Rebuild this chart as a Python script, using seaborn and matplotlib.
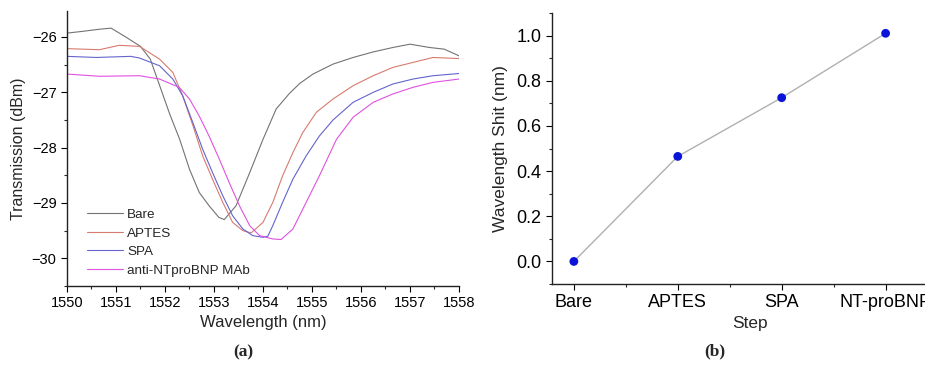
import matplotlib
matplotlib.use("Agg")
import matplotlib.pyplot as plt
import numpy as np
import pandas as pd
import seaborn as sns
from matplotlib.ticker import AutoMinorLocator, MultipleLocator

# spectra: wavelength (nm), transmission (dBm)
bare_wl = [1550.0, 1550.3, 1550.66, 1550.9, 1551.2, 1551.5, 1551.7, 1551.9, 1552.1,
           1552.3, 1552.5, 1552.7, 1552.9, 1553.1, 1553.21, 1553.45, 1553.73, 1554.0,
           1554.27, 1554.54, 1554.75, 1555.02, 1555.43, 1555.84, 1556.25, 1556.65, 1557.0,
           1557.4, 1557.7, 1558.0]
bare_tr = [-25.93, -25.9, -25.86, -25.84, -26.0, -26.17, -26.4, -26.9, -27.4,
           -27.85, -28.39, -28.81, -29.05, -29.26, -29.3, -29.05, -28.45, -27.85,
           -27.3, -27.02, -26.84, -26.67, -26.49, -26.37, -26.27, -26.19, -26.13,
           -26.19, -26.22, -26.34]

aptes_wl = [1550.0, 1550.66, 1551.07, 1551.48, 1551.89, 1552.16, 1552.36, 1552.57, 1552.77,
            1552.97, 1553.18, 1553.38, 1553.59, 1553.76, 1554.0, 1554.2, 1554.4, 1554.61,
            1554.81, 1555.09, 1555.43, 1555.84, 1556.25, 1556.65, 1557.06, 1557.47, 1558.0]
aptes_tr = [-26.21, -26.23, -26.15, -26.17, -26.4, -26.64, -27.06, -27.6, -28.15,
            -28.57, -28.99, -29.35, -29.5, -29.54, -29.35, -28.99, -28.51, -28.09,
            -27.73, -27.36, -27.12, -26.88, -26.7, -26.55, -26.46, -26.37, -26.39]

spa_wl = [1550.0, 1550.6, 1551.3, 1551.48, 1551.89, 1552.16, 1552.36, 1552.57, 1552.77,
          1552.97, 1553.18, 1553.38, 1553.59, 1553.79, 1554.0, 1554.1, 1554.2, 1554.4,
          1554.61, 1554.88, 1555.15, 1555.43, 1555.84, 1556.25, 1556.65, 1557.06, 1557.47,
          1558.0]
spa_tr = [-26.35, -26.37, -26.35, -26.38, -26.52, -26.76, -27.06, -27.55, -28.03,
          -28.45, -28.87, -29.23, -29.47, -29.59, -29.62, -29.6, -29.41, -28.99,
          -28.57, -28.15, -27.79, -27.5, -27.18, -27.0, -26.85, -26.76, -26.7,
          -26.66]

mab_wl = [1550.0, 1550.66, 1551.48, 1551.89, 1552.29, 1552.5, 1552.7, 1552.9, 1553.11,
          1553.31, 1553.52, 1553.73, 1553.93, 1554.2, 1554.37, 1554.61, 1554.88, 1555.15,
          1555.5, 1555.84, 1556.25, 1556.65, 1557.06, 1557.47, 1558.0]
mab_tr = [-26.67, -26.71, -26.7, -26.76, -26.91, -27.12, -27.43, -27.79, -28.21,
          -28.63, -29.05, -29.41, -29.59, -29.65, -29.66, -29.47, -28.99, -28.51,
          -27.85, -27.45, -27.18, -27.03, -26.91, -26.82, -26.76]

series_names = ["Bare", "APTES", "SPA", "anti-NTproBNP MAb"]
series_colors = ["#737373", "#d87b6e", "#6464cc", "#e052e0"]

# panel (b)
steps = ["Bare", "APTES", "SPA", "NT-proBNP"]
shift = [0.0, 0.465, 0.725, 1.01]

sns.set_style("ticks")
plt.rcParams["font.family"] = ["Liberation Sans", "DejaVu Sans"]
plt.rcParams["xtick.direction"] = "out"
plt.rcParams["ytick.direction"] = "out"

spec = pd.concat([
    pd.DataFrame({"wl": w, "tr": t, "sample": n})
    for w, t, n in zip([bare_wl, aptes_wl, spa_wl, mab_wl],
                       [bare_tr, aptes_tr, spa_tr, mab_tr], series_names)
])
shift_df = pd.DataFrame({"step": steps, "shift": shift})

fig = plt.figure(figsize=(9.25, 3.66), dpi=100)
ax1 = fig.add_axes([0.0724, 0.2186, 0.4238, 0.7514])
ax2 = fig.add_axes([0.5968, 0.224, 0.428, 0.7405])

sns.lineplot(data=spec, x="wl", y="tr", hue="sample", palette=series_colors,
             hue_order=series_names, sort=False, linewidth=0.8, ax=ax1)
ax1.set_xlim(1550, 1558)
ax1.set_ylim(-30.5, -25.53)
ax1.xaxis.set_major_locator(MultipleLocator(1))
ax1.xaxis.set_minor_locator(AutoMinorLocator(2))
ax1.yaxis.set_major_locator(MultipleLocator(1))
ax1.yaxis.set_minor_locator(AutoMinorLocator(2))
ax1.set_xlabel("Wavelength (nm)", fontsize=12, labelpad=3)
ax1.set_ylabel("Transmission (dBm)", fontsize=11.5, labelpad=4)
leg = ax1.legend(loc="lower left", bbox_to_anchor=(0.02, -0.01), frameon=False,
                 fontsize=9.7, handlelength=2.7, handletextpad=0.3, labelspacing=0.45)

sns.lineplot(data=shift_df, x="step", y="shift", color="#b0b0b0", linewidth=1.0,
             sort=False, ax=ax2)
sns.scatterplot(data=shift_df, x="step", y="shift", color="#0a14d8", s=40,
                edgecolor="none", zorder=3, ax=ax2)
ax2.set_xlim(-0.21, 3.6)
ax2.set_ylim(-0.1, 1.1)
ax2.yaxis.set_major_locator(MultipleLocator(0.2))
ax2.yaxis.set_minor_locator(AutoMinorLocator(2))
ax2.set_xticks(range(len(steps)))
ax2.set_xticks(np.arange(0.5, 3.5, 1), minor=True)
ax2.set_xlabel("Step", fontsize=12.5, labelpad=3)
ax2.set_ylabel("Wavelength Shit (nm)", fontsize=12.5, labelpad=6)

for ax, ls in ((ax1, 10.5), (ax2, 13)):
    sns.despine(ax=ax)
    ax.tick_params(which="major", length=4.5, width=0.8, labelsize=ls, pad=3, colors="black")
    ax.tick_params(which="minor", length=2.5, width=0.8)
    for s in ("left", "bottom"):
        ax.spines[s].set_linewidth(1.0)
        ax.spines[s].set_color("#222222")

fig.text(0.263, 0.025, "(a)", ha="center", fontsize=12.5, fontweight="bold",
         family="Liberation Serif")
fig.text(0.773, 0.03, "(b)", ha="center", fontsize=12.5, fontweight="bold",
         family="Liberation Serif")

fig.savefig("out.png", dpi=100)
